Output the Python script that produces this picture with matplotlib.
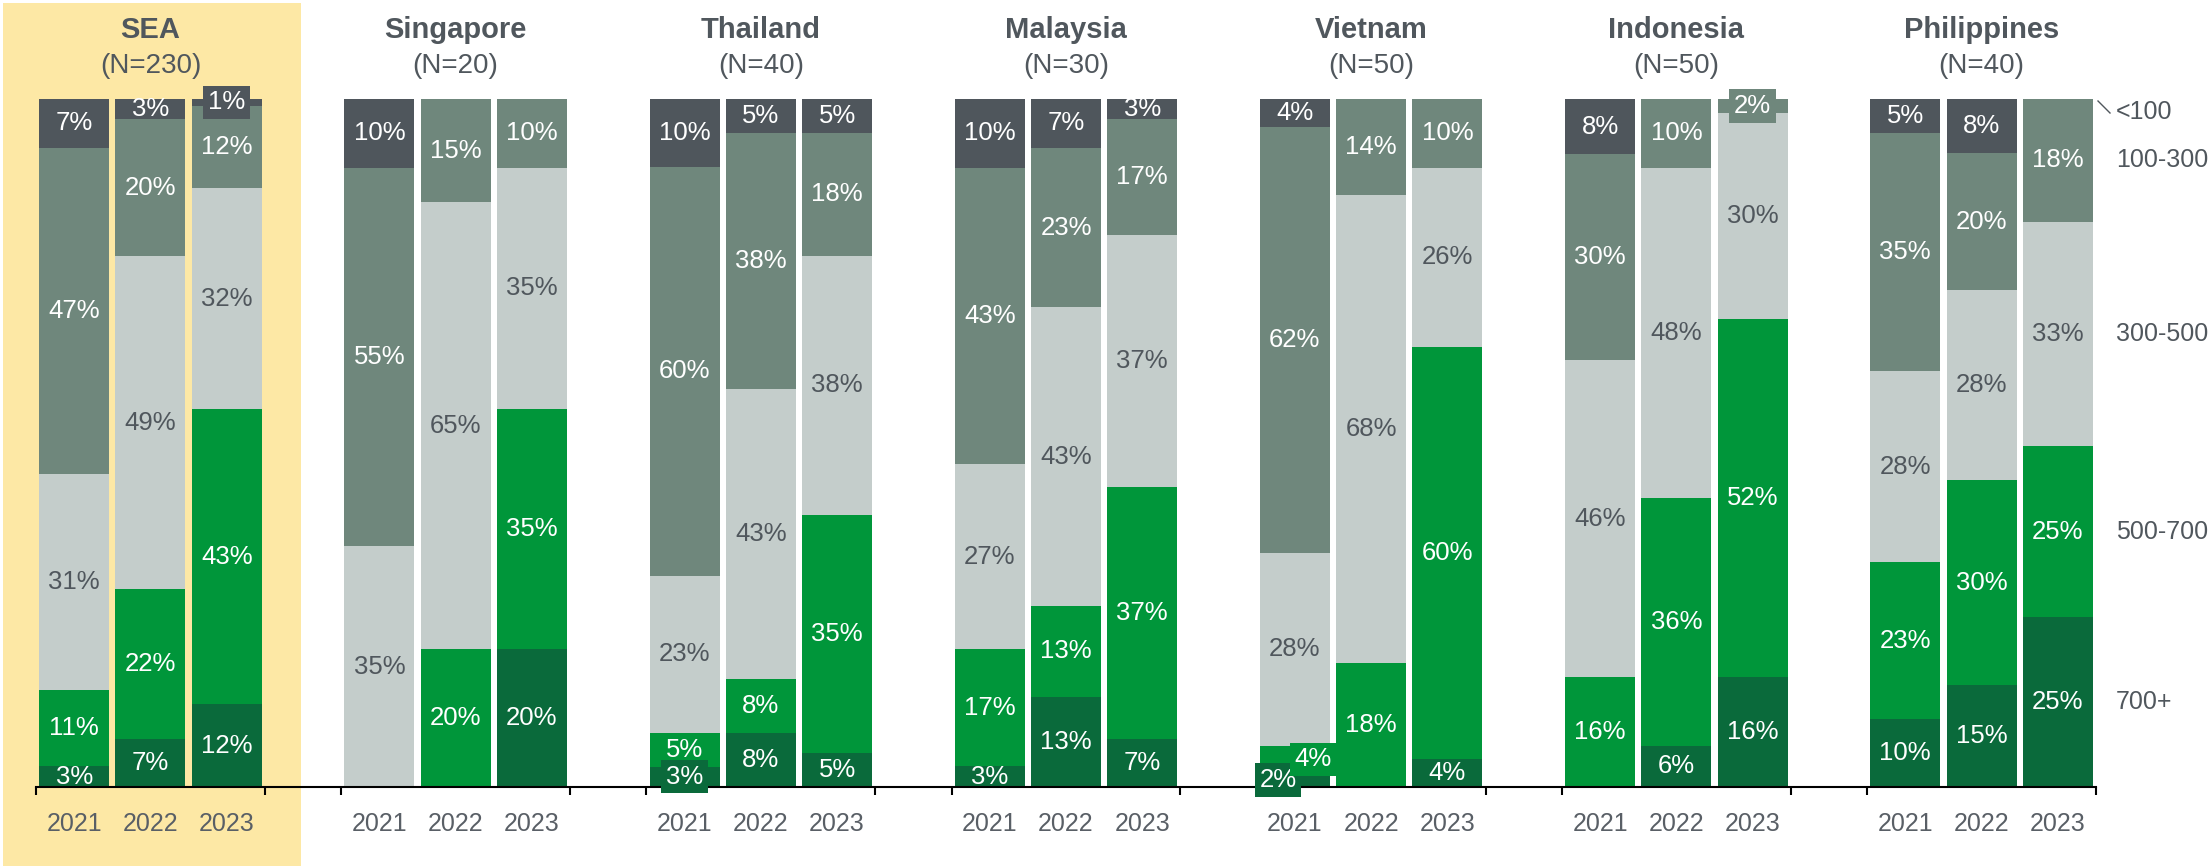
import matplotlib
matplotlib.use('Agg')
import matplotlib.pyplot as plt
from matplotlib.patches import Rectangle
import matplotlib.transforms as mtransforms
import numpy as np

# ---------------- data ----------------
groups = ["SEA", "Singapore", "Thailand", "Malaysia", "Vietnam", "Indonesia", "Philippines"]
n_sizes = [230, 20, 40, 30, 50, 50, 40]
years = ["2021", "2022", "2023"]
segments = ["700+", "500-700", "300-500", "100-300", "<100"]

# values per bar, group by group, years 2021/2022/2023
s700 = [3, 7, 12, 0, 0, 20, 3, 8, 5, 3, 13, 7, 2, 0, 4, 0, 6, 16, 10, 15, 25]
s500 = [11, 22, 43, 0, 20, 35, 5, 8, 35, 17, 13, 37, 4, 18, 60, 16, 36, 52, 23, 30, 25]
s300 = [31, 49, 32, 35, 65, 35, 23, 43, 38, 27, 43, 37, 28, 68, 26, 46, 48, 30, 28, 28, 33]
s100 = [47, 20, 12, 55, 15, 10, 60, 38, 18, 43, 23, 17, 62, 14, 10, 30, 10, 2, 35, 20, 18]
slt100 = [7, 3, 1, 10, 0, 0, 10, 5, 5, 10, 7, 3, 4, 0, 0, 8, 0, 0, 5, 8, 0]

series = [s700, s500, s300, s100, slt100]

# ---------------- style ----------------
colors = ["#0A6A3B", "#00963A", "#C4CDCB", "#6F877C", "#4F565C"]
label_colors = ["white", "white", "#50575D", "white", "white"]
TXT = "#50575D"
plt.rcParams['font.family'] = ['Liberation Sans', 'DejaVu Sans']

# labels drawn with a background box (bar index, segment index) -> x offset in slots
boxed = {(2, 4): 0.0, (6, 0): 0.0, (12, 0): -0.22, (12, 1): 0.24, (17, 3): 0.0}

W, H = 2211, 866
fig = plt.figure(figsize=(W / 100, H / 100), dpi=100)
fig.patches.append(Rectangle((3 / W, 0), (301 - 3) / W, (H - 3) / H,
                             transform=fig.transFigure, facecolor='#FDE8A5',
                             edgecolor='none', zorder=0))

ax = fig.add_axes([36 / W, (H - 787) / H, 2060 / W, 688 / H])
ax.set_zorder(1)
ax.patch.set_visible(False)
ax.set_xlim(-0.5, 26.5)
ax.set_ylim(0, 100)

xpos = [4 * g + y for g in range(len(groups)) for y in range(len(years))]
vals = np.array(series, dtype=float)  # shape (5, 21)
totals = vals.sum(axis=0)
shares = vals / totals * 100

bottom = np.zeros(len(xpos))
bw = 0.917
for si in range(len(segments)):
    ax.bar(xpos, shares[si], bottom=bottom, width=bw, color=colors[si],
           edgecolor='none', zorder=2)
    for bi, x in enumerate(xpos):
        v = int(vals[si, bi])
        if v <= 0:
            continue
        yc = bottom[bi] + shares[si, bi] / 2
        key = (bi, si)
        kw = {}
        dx = 0.0
        if key in boxed:
            dx = boxed[key]
            kw['bbox'] = dict(boxstyle='square,pad=0.18', facecolor=colors[si],
                              edgecolor='none')
        ax.text(x + dx, yc, f"{v}%", ha='center', va='center', fontsize=18.5,
                color=label_colors[si], zorder=5, clip_on=False, **kw)
    bottom += shares[si]

# titles
trans = mtransforms.blended_transform_factory(ax.transData, fig.transFigure)
for g, (name, n) in enumerate(zip(groups, n_sizes)):
    ax.text(4 * g + 1, 1 - 30 / H, name, transform=trans, ha='center', va='center',
            fontsize=21, fontweight='bold', color=TXT)
    ax.text(4 * g + 1, 1 - 66 / H, f"(N={n})", transform=trans, ha='center',
            va='center', fontsize=20, color=TXT)

# legend labels aligned with last bar
last = len(xpos) - 1
lx = 26.5 + 20 / 76.3
cum = np.concatenate([[0], np.cumsum(shares[:, last])])
for si, name in enumerate(segments):
    if shares[si, last] > 0:
        yc = (cum[si] + cum[si + 1]) / 2
        ax.text(lx, yc, name, ha='left', va='center', fontsize=18, color=TXT,
                clip_on=False)
    else:
        ax.text(lx, 100 - 13 / 6.88, name, ha='left', va='center', fontsize=18,
                color=TXT, clip_on=False)
        ax.plot([26.5 + 2 / 76.3, 26.5 + 14 / 76.3], [100 - 2 / 6.88, 100 - 14 / 6.88],
                color=TXT, lw=1, clip_on=False)

# axes
ax.set_xticks(xpos)
ax.set_xticklabels([years[i % 3] for i in range(len(xpos))])
ax.set_xticks([4 * g - 0.5 for g in range(len(groups))] +
              [4 * g + 2.5 for g in range(len(groups))], minor=True)
ax.tick_params(axis='x', which='major', length=0, pad=18, labelsize=18,
               labelcolor='#595F66')
ax.tick_params(axis='x', which='minor', length=5.5, width=1.5, direction='out',
               color='black')
ax.set_yticks([])
for s in ['left', 'top', 'right']:
    ax.spines[s].set_visible(False)
ax.spines['bottom'].set_linewidth(1.5)
ax.spines['bottom'].set_color('black')
ax.spines['bottom'].set_zorder(3)

fig.savefig('out.png', dpi=100)
